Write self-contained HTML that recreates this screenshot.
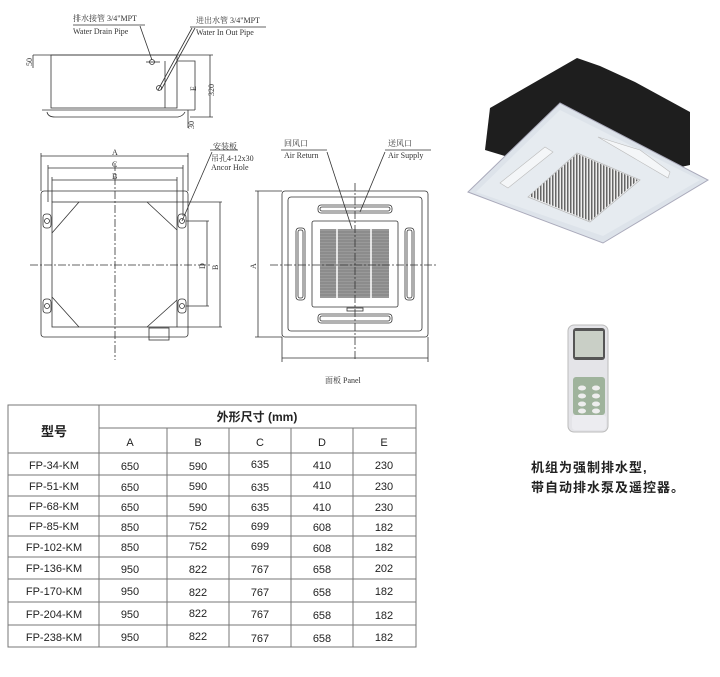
<!DOCTYPE html>
<html><head><meta charset="utf-8"><style>
html,body{margin:0;padding:0;background:#fff;}
body{width:720px;height:677px;overflow:hidden;position:relative;}
svg{position:absolute;left:0;top:0;}
</style></head><body>
<svg width="720" height="677" viewBox="0 0 720 677" xmlns="http://www.w3.org/2000/svg">
<g stroke="#333" stroke-width="0.8" fill="none">
<!-- side view -->
<line x1="33" y1="55" x2="177" y2="55"/>
<line x1="33" y1="55" x2="33" y2="68"/>
<rect x="51" y="55" width="126" height="53"/>
<path d="M177 61 H195 V110"/>
<path d="M42 110 H195"/>
<path d="M47 112 Q48 117 55 117 H178 Q183 116 185 112"/>
<line x1="177" y1="55" x2="213" y2="55"/>
<line x1="190" y1="117" x2="213" y2="117"/>
<line x1="210" y1="55" x2="210" y2="117"/>
<line x1="165" y1="61" x2="165" y2="108"/>
<line x1="188" y1="110" x2="188" y2="128"/>
<circle cx="152" cy="62" r="2.5"/>
<circle cx="159" cy="88" r="2.5"/>
<line x1="146" y1="62" x2="160" y2="62"/>
<line x1="73" y1="25" x2="145" y2="25"/>
<line x1="140" y1="26" x2="152" y2="60"/>
<line x1="190" y1="27" x2="266" y2="27"/>
<line x1="192" y1="28" x2="158" y2="90"/>
<line x1="195" y1="28" x2="161" y2="90"/>
<!-- front view -->
<rect x="41" y="191" width="147" height="146" rx="3"/>
<rect x="52" y="202" width="125" height="125"/>
<line x1="52" y1="233" x2="79" y2="202"/>
<line x1="147" y1="202" x2="177" y2="230"/>
<line x1="52" y1="297" x2="79" y2="327"/>
<line x1="147" y1="327" x2="177" y2="300"/>
<circle cx="47" cy="221" r="2.5"/><circle cx="182" cy="221" r="2.5"/>
<circle cx="47" cy="306" r="2.5"/><circle cx="182" cy="306" r="2.5"/>
<rect x="43" y="214" width="8" height="14" rx="3"/><rect x="178" y="214" width="8" height="14" rx="3"/>
<rect x="43" y="299" width="8" height="14" rx="3"/><rect x="178" y="299" width="8" height="14" rx="3"/>
<rect x="149" y="328" width="20" height="12"/>
<line x1="41" y1="156" x2="188" y2="156"/><line x1="41" y1="153" x2="41" y2="191"/><line x1="188" y1="153" x2="188" y2="191"/>
<line x1="48" y1="168" x2="183" y2="168"/><line x1="48" y1="165" x2="48" y2="202"/><line x1="183" y1="165" x2="183" y2="216"/>
<line x1="52" y1="180" x2="177" y2="180"/><line x1="52" y1="177" x2="52" y2="202"/><line x1="177" y1="177" x2="177" y2="202"/>
<line x1="177" y1="202" x2="222" y2="202"/><line x1="177" y1="327" x2="222" y2="327"/>
<line x1="220" y1="202" x2="220" y2="327"/>
<line x1="186" y1="221" x2="209" y2="221"/><line x1="186" y1="306" x2="209" y2="306"/>
<line x1="207" y1="221" x2="207" y2="306"/>
<line x1="210" y1="150" x2="238" y2="150"/>
<line x1="212" y1="152" x2="182" y2="221"/>
<line x1="115" y1="163" x2="115" y2="360" stroke-dasharray="8,2,2,2"/>
<line x1="30" y1="265" x2="210" y2="265" stroke-dasharray="8,2,2,2"/>
<!-- panel view -->
<rect x="282" y="191" width="146" height="146" rx="3"/>
<rect x="288" y="197" width="134" height="134" rx="3"/>
<rect x="312" y="221" width="86" height="86" rx="2"/>
<rect x="318" y="205" width="74" height="8" rx="3"/>
<rect x="320" y="207" width="70" height="4" rx="2"/>
<rect x="318" y="314" width="74" height="9" rx="3"/>
<rect x="320" y="316" width="70" height="5" rx="2"/>
<rect x="296" y="228" width="9" height="72" rx="3"/>
<rect x="298" y="230" width="5" height="68" rx="2"/>
<rect x="405" y="228" width="9" height="72" rx="3"/>
<rect x="407" y="230" width="5" height="68" rx="2"/>
<rect x="347" y="308" width="16" height="3"/>
<line x1="258" y1="191" x2="258" y2="337"/>
<line x1="255" y1="191" x2="282" y2="191"/><line x1="255" y1="337" x2="282" y2="337"/>
<line x1="282" y1="358" x2="428" y2="358"/>
<line x1="282" y1="337" x2="282" y2="362"/><line x1="428" y1="337" x2="428" y2="362"/>
<line x1="281" y1="150" x2="327" y2="150"/>
<line x1="327" y1="152" x2="355" y2="238"/>
<line x1="385" y1="150" x2="431" y2="150"/>
<line x1="385" y1="152" x2="360" y2="212"/>
</g>
<g fill="#999">
<rect x="320" y="229" width="69" height="69"/>
</g>
<g stroke="#666" stroke-width="0.6">
<path d="M320 232H389M320 235H389M320 238H389M320 241H389M320 244H389M320 247H389M320 250H389M320 253H389M320 256H389M320 259H389M320 262H389M320 265H389M320 268H389M320 271H389M320 274H389M320 277H389M320 280H389M320 283H389M320 286H389M320 289H389M320 292H389M320 295H389"/>
</g>
<g stroke="#fff" stroke-width="1.5"><line x1="337" y1="229" x2="337" y2="298"/><line x1="371" y1="229" x2="371" y2="298"/></g>
<g stroke="#333" stroke-width="0.8" fill="none">
<line x1="355" y1="183" x2="355" y2="360" stroke-dasharray="8,2,2,2"/>
<line x1="270" y1="265" x2="437" y2="265" stroke-dasharray="8,2,2,2"/>
</g>
<g font-family="'Liberation Serif','Noto Serif CJK SC',serif" font-size="8" fill="#333">
<text x="73" y="21">排水接管 3/4"MPT</text>
<text x="73" y="34">Water Drain Pipe</text>
<text x="196" y="23">进出水管 3/4"MPT</text>
<text x="196" y="35">Water In Out Pipe</text>
<text transform="translate(32,66) rotate(-90)">50</text>
<text transform="translate(196,91) rotate(-90)">E</text>
<text transform="translate(214,96) rotate(-90)">320</text>
<text transform="translate(194,129) rotate(-90)">30</text>
<text x="112" y="155">A</text><text x="112" y="167">C</text><text x="112" y="179">B</text>
<text transform="translate(205,269) rotate(-90)">D</text>
<text transform="translate(218,270) rotate(-90)">B</text>
<text transform="translate(256,269) rotate(-90)">A</text>
<text x="213" y="149">安装板</text>
<text x="211" y="161">吊孔4-12x30</text>
<text x="211" y="170">Ancor Hole</text>
<text x="284" y="146">回风口</text>
<text x="284" y="158">Air Return</text>
<text x="388" y="146">送风口</text>
<text x="388" y="158">Air Supply</text>
<text x="325" y="383">面板  Panel</text>
</g>
<!-- photo -->
<polygon points="485,150,490,108,577,58,600,66,635,82,690,112,690,165,600,185" fill="#1e1e1e"/>
<polygon points="468,192,560,103,708,180,603,243" fill="#dde3ea" stroke="#aab" stroke-width="1"/>
<polygon points="476,192,560,110,700,180,603,236" fill="#e6ebf0"/>
<polygon points="528,197,577,153,640,180,590,222" fill="#f0f2f4" stroke="#bbb" stroke-width="0.8"/>
<polygon points="529,196,577,154,638,180,590,221" fill="url(#gr)"/>
<defs><pattern id="gr" width="3" height="3" patternUnits="userSpaceOnUse"><rect width="3" height="3" fill="#eee"/><rect width="1.5" height="3" fill="#666"/></pattern></defs>
<polygon points="500,183,545,147,553,152,508,188" fill="#f4f6f8" stroke="#bbb" stroke-width="0.6"/>
<polygon points="598,137,640,150,670,172,668,178" fill="#f4f6f8" stroke="#bbb" stroke-width="0.6"/>
<!-- remote -->
<rect x="568" y="325" width="40" height="107" rx="6" fill="#e4e4e8" stroke="#bbb"/>
<rect x="573" y="328" width="32" height="32" rx="3" fill="#555"/>
<rect x="575" y="331" width="28" height="26" fill="#c9cfc6"/>
<rect x="573" y="377" width="32" height="38" rx="3" fill="#9fb39c"/>
<rect x="572" y="415" width="34" height="15" rx="3" fill="#ececf0"/>
<g fill="#eee"><ellipse cx="582" cy="388" rx="4" ry="2.5"/><ellipse cx="596" cy="388" rx="4" ry="2.5"/><ellipse cx="582" cy="396" rx="4" ry="2.5"/><ellipse cx="596" cy="396" rx="4" ry="2.5"/><ellipse cx="582" cy="404" rx="4" ry="2.5"/><ellipse cx="596" cy="404" rx="4" ry="2.5"/><ellipse cx="582" cy="411" rx="4" ry="2.5"/><ellipse cx="596" cy="411" rx="4" ry="2.5"/></g>
<g font-family="'Liberation Sans','Noto Sans CJK SC',sans-serif" font-size="13" font-weight="bold" fill="#222">
<text x="531" y="472" letter-spacing="1">机组为强制排水型,</text>
<text x="531" y="492" letter-spacing="1">带自动排水泵及遥控器。</text>
</g>
<!-- table -->
<g stroke="#777" stroke-width="1" fill="none">
<rect x="8" y="405" width="408" height="242"/>
<line x1="99" y1="428" x2="416" y2="428"/>
<line x1="8" y1="453" x2="416" y2="453"/>
<line x1="8" y1="475" x2="416" y2="475"/>
<line x1="8" y1="496" x2="416" y2="496"/>
<line x1="8" y1="516" x2="416" y2="516"/>
<line x1="8" y1="536" x2="416" y2="536"/>
<line x1="8" y1="557" x2="416" y2="557"/>
<line x1="8" y1="579" x2="416" y2="579"/>
<line x1="8" y1="602" x2="416" y2="602"/>
<line x1="8" y1="625" x2="416" y2="625"/>
<line x1="99" y1="405" x2="99" y2="647"/>
<line x1="167" y1="428" x2="167" y2="647"/>
<line x1="229" y1="428" x2="229" y2="647"/>
<line x1="291" y1="428" x2="291" y2="647"/>
<line x1="353" y1="428" x2="353" y2="647"/>
</g>
<g font-family="'Liberation Sans','Noto Sans CJK SC',sans-serif" font-size="11" fill="#222" text-anchor="middle">
<text x="54" y="436" font-weight="bold" font-size="13">型号</text>
<text x="257" y="421" font-weight="bold" font-size="12">外形尺寸 (mm)</text>
<text x="130" y="446">A</text><text x="198" y="446">B</text><text x="260" y="446">C</text><text x="322" y="446">D</text><text x="384" y="446">E</text>
<g>
<text x="54" y="469">FP-34-KM</text><text x="130" y="470">650</text><text x="198" y="470">590</text><text x="260" y="468">635</text><text x="322" y="469">410</text><text x="384" y="469">230</text>
<text x="54" y="490">FP-51-KM</text><text x="130" y="491">650</text><text x="198" y="490">590</text><text x="260" y="491">635</text><text x="322" y="489">410</text><text x="384" y="490">230</text>
<text x="54" y="510">FP-68-KM</text><text x="130" y="511">650</text><text x="198" y="511">590</text><text x="260" y="511">635</text><text x="322" y="511">410</text><text x="384" y="511">230</text>
<text x="54" y="530">FP-85-KM</text><text x="130" y="531">850</text><text x="198" y="530">752</text><text x="260" y="530">699</text><text x="322" y="531">608</text><text x="384" y="531">182</text>
<text x="54" y="551">FP-102-KM</text><text x="130" y="551">850</text><text x="198" y="550">752</text><text x="260" y="550">699</text><text x="322" y="552">608</text><text x="384" y="551">182</text>
<text x="54" y="572">FP-136-KM</text><text x="130" y="573">950</text><text x="198" y="573">822</text><text x="260" y="573">767</text><text x="322" y="573">658</text><text x="384" y="572">202</text>
<text x="54" y="595">FP-170-KM</text><text x="130" y="595">950</text><text x="198" y="596">822</text><text x="260" y="596">767</text><text x="322" y="596">658</text><text x="384" y="595">182</text>
<text x="54" y="618">FP-204-KM</text><text x="130" y="618">950</text><text x="198" y="617">822</text><text x="260" y="618">767</text><text x="322" y="619">658</text><text x="384" y="619">182</text>
<text x="54" y="641">FP-238-KM</text><text x="130" y="641">950</text><text x="198" y="640">822</text><text x="260" y="642">767</text><text x="322" y="642">658</text><text x="384" y="641">182</text>
</g>
</g>
</svg>
</body></html>
